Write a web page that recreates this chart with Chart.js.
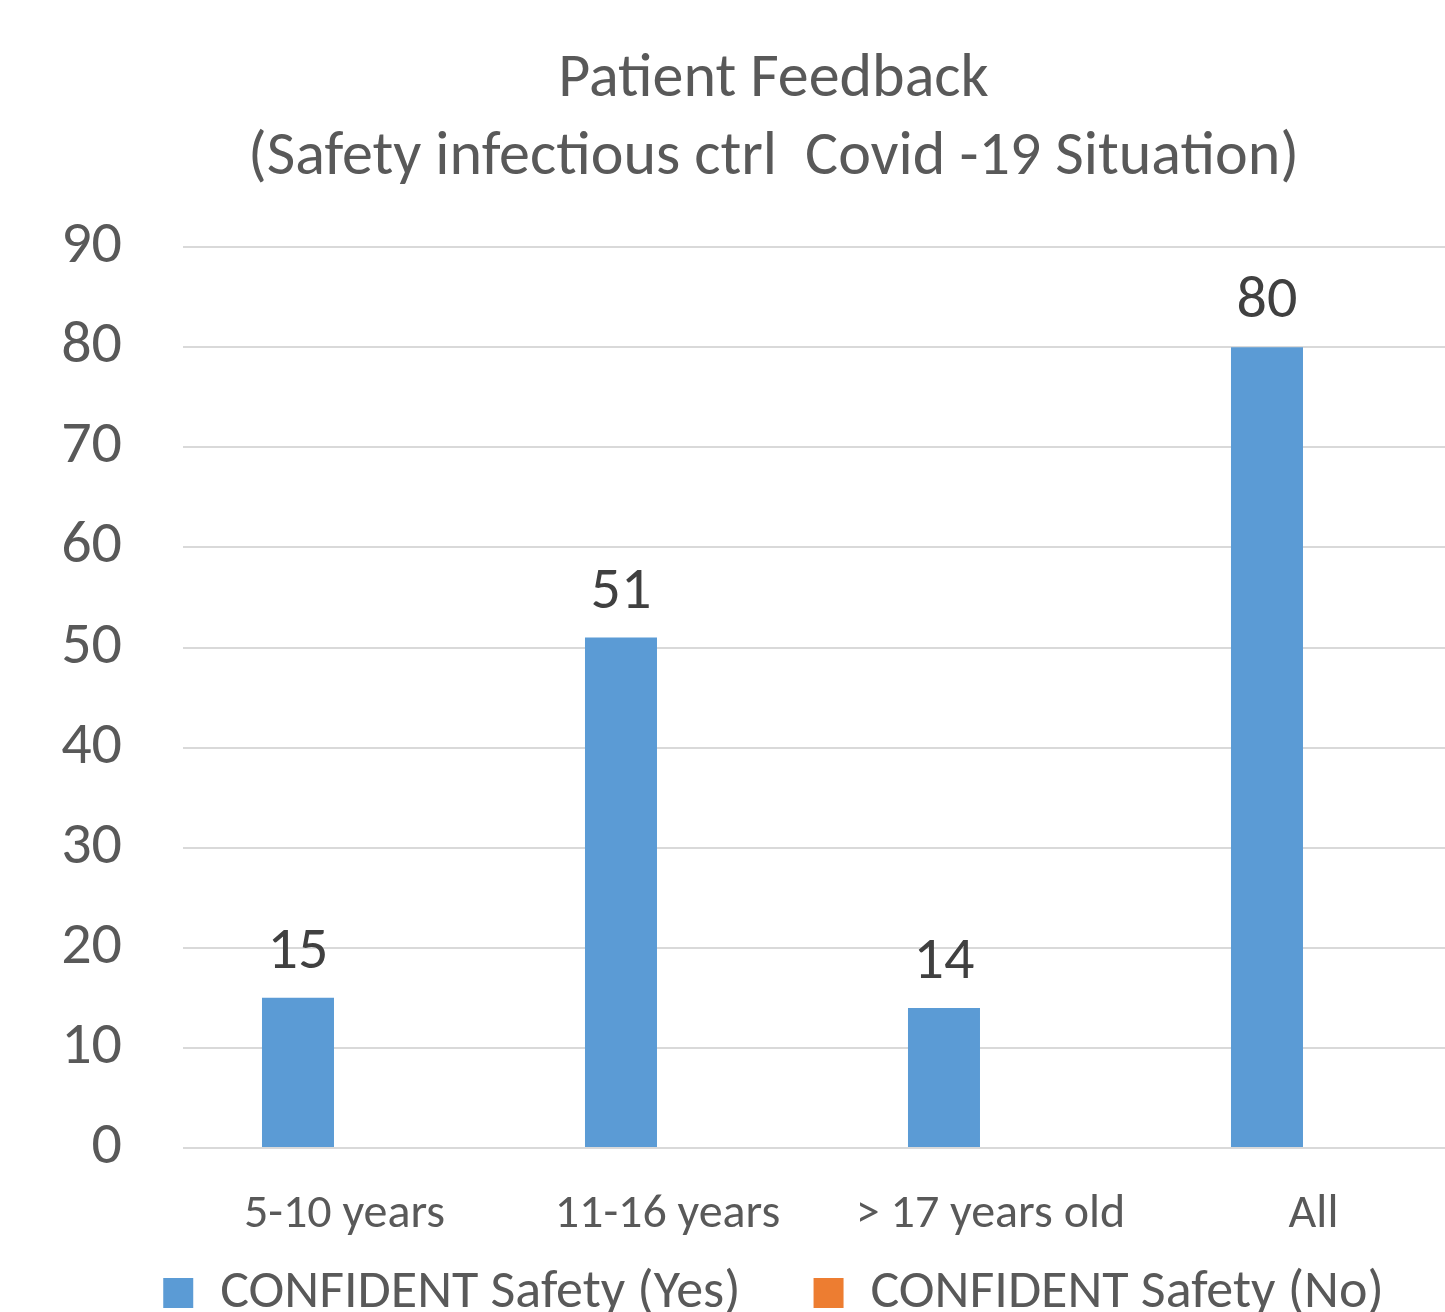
<!DOCTYPE html>
<html>
<head>
<meta charset="utf-8">
<script src="https://cdn.jsdelivr.net/npm/chart.js@4.4.1/dist/chart.umd.min.js"></script>
<style>
  html, body { margin: 0; padding: 0; background: #fff; overflow: hidden; }
  #wrap { position: absolute; left: 0; top: 0; }
</style>
</head>
<body>
<div id="wrap"><canvas id="chart" width="1547" height="1385"></canvas></div>
<script>
const categories = ['5-10 years', '11-16 years', '> 17 years old', 'All'];
const yesValues = [15, 51, 14, 80];
const noValues = [null, null, null, null];
const yTicks = [0, 10, 20, 30, 40, 50, 60, 70, 80, 90];

const FONT = 'Carlito, Lato, sans-serif';

// draws the value above each bar
const barLabels = {
  id: 'barLabels',
  afterDatasetsDraw(chart) {
    const ctx = chart.ctx;
    ctx.save();
    ctx.font = '60px ' + FONT;
    ctx.fillStyle = '#404040';
    ctx.textAlign = 'center';
    ctx.textBaseline = 'alphabetic';
    chart.data.datasets.forEach((ds, i) => {
      chart.getDatasetMeta(i).data.forEach((bar, j) => {
        if (ds.data[j] == null) return;
        ctx.fillText(String(ds.data[j]), bar.x, bar.y - 30);
      });
    });
    ctx.restore();
  }
};

// pulls the legend row up closer to the axis labels
const legendShift = {
  id: 'legendShift',
  afterLayout(chart) {
    const d = 55;
    chart.legend.top -= d;
    chart.legend.bottom -= d;
  }
};

new Chart(document.getElementById('chart'), {
  type: 'bar',
  data: {
    labels: categories,
    datasets: [
      { label: 'CONFIDENT Safety (Yes)', data: yesValues, backgroundColor: '#5B9BD5', borderWidth: 0,
        categoryPercentage: 0.576, barPercentage: 0.774 },
      { label: 'CONFIDENT Safety (No)', data: noValues, backgroundColor: '#ED7D31', borderWidth: 0,
        categoryPercentage: 0.576, barPercentage: 0.774 }
    ]
  },
  options: {
    responsive: false,
    animation: false,
    layout: { padding: 0 },
    plugins: {
      tooltip: { enabled: false },
      title: {
        display: true,
        text: ['Patient Feedback', '(Safety infectious ctrl  Covid -19 Situation)'],
        color: '#595959',
        font: { family: FONT, size: 62, weight: 'normal', lineHeight: 1.26 },
        padding: { top: 41, bottom: 50 }
      },
      legend: {
        position: 'bottom',
        labels: {
          color: '#595959',
          font: { family: FONT, size: 54 },
          boxWidth: 30,
          boxHeight: 30,
          padding: 73
        }
      }
    },
    scales: {
      x: {
        grid: { display: false },
        border: { display: false },
        ticks: { color: '#595959', font: { family: FONT, size: 48 }, padding: 30, maxRotation: 0 },
        afterFit: s => { s.height = 100; }
      },
      y: {
        min: 0,
        max: 90,
        afterBuildTicks: s => { s.ticks = yTicks.map(v => ({ value: v })); },
        grid: { color: '#d9d9d9', lineWidth: 2, drawTicks: false },
        border: { display: false },
        ticks: { color: '#595959', font: { family: FONT, size: 60 }, padding: 61 },
        afterFit: s => { s.width = 183; }
      },
      yRight: {
        position: 'right',
        display: true,
        grid: { display: false },
        border: { display: false },
        ticks: { display: false },
        afterFit: s => { s.width = 72; }
      }
    }
  },
  plugins: [barLabels, legendShift]
});
</script>
</body>
</html>
